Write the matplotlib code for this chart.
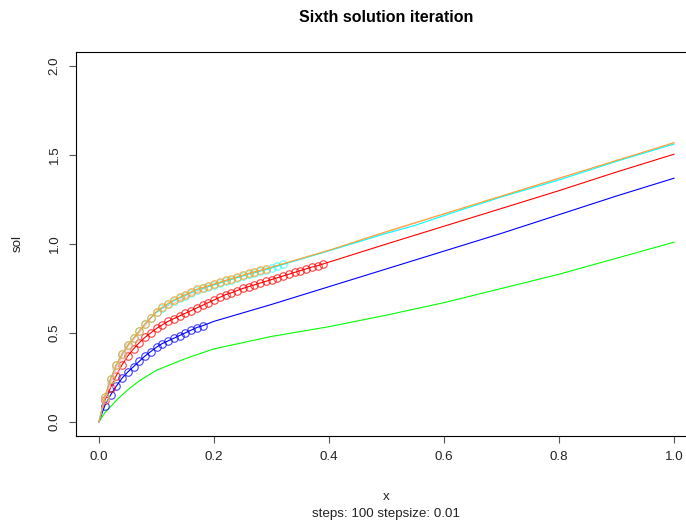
import numpy as np
import matplotlib
matplotlib.use("Agg")
import matplotlib.pyplot as plt

plt.rcParams['font.family'] = ['Liberation Sans', 'DejaVu Sans']

# x positions of the circled iterates (step 0.01) and of the remaining line points
x_fine = [0.00, 0.01, 0.02, 0.03, 0.04, 0.05, 0.06, 0.07, 0.08, 0.09,
          0.10, 0.11, 0.12, 0.13, 0.14, 0.15, 0.16, 0.17, 0.18, 0.19,
          0.20, 0.21, 0.22, 0.23, 0.24, 0.25, 0.26, 0.27, 0.28, 0.29,
          0.30, 0.31, 0.32, 0.33, 0.34, 0.35, 0.36, 0.37, 0.38, 0.39]

# green: line only
green_x = [0.0, 0.01, 0.03, 0.05, 0.07, 0.10, 0.15, 0.20, 0.30, 0.40, 0.50, 0.60, 0.70, 0.80, 0.90, 1.0]
green_y = [0.0, 0.05, 0.12, 0.18, 0.23, 0.29, 0.355, 0.41, 0.48, 0.535, 0.60, 0.67, 0.75, 0.83, 0.92, 1.01]

# blue: circles up to 0.18
blue_pts = [0.0, 0.09, 0.15, 0.20, 0.245, 0.28, 0.31, 0.34, 0.37, 0.395,
            0.42, 0.44, 0.455, 0.47, 0.485, 0.50, 0.515, 0.53, 0.54]
blue_tail_x = [0.2, 0.3, 0.4, 0.5, 0.6, 0.7, 0.8, 0.9, 1.0]
blue_tail_y = [0.565, 0.66, 0.76, 0.86, 0.96, 1.06, 1.165, 1.27, 1.37]

# red: circles up to 0.39
red_pts = [0.0, 0.12, 0.19, 0.26, 0.32, 0.37, 0.41, 0.445, 0.475, 0.50,
           0.525, 0.545, 0.565, 0.58, 0.595, 0.61, 0.625, 0.64, 0.655, 0.67,
           0.685, 0.70, 0.715, 0.725, 0.738, 0.75, 0.76, 0.77, 0.78, 0.79,
           0.80, 0.81, 0.82, 0.83, 0.84, 0.85, 0.86, 0.87, 0.878, 0.888]
red_tail_x = [0.5, 0.6, 0.7, 0.8, 0.9, 1.0]
red_tail_y = [1.0, 1.10, 1.20, 1.30, 1.405, 1.505]

# pink: circles up to 0.05
pink_pts = [0.0, 0.13, 0.22, 0.30, 0.37, 0.42]
pink_tail_x = [0.1, 0.2, 0.3, 0.4, 0.5, 0.6, 0.7, 0.8, 0.9, 1.0]
pink_tail_y = [0.62, 0.775, 0.868, 0.962, 1.065, 1.168, 1.268, 1.368, 1.468, 1.568]

# cyan: circles up to 0.32
cyan_pts = [0.0, 0.14, 0.24, 0.32, 0.38, 0.43, 0.47, 0.51, 0.55, 0.585,
            0.615, 0.64, 0.66, 0.68, 0.695, 0.71, 0.725, 0.74, 0.75, 0.76,
            0.77, 0.78, 0.79, 0.80, 0.81, 0.82, 0.83, 0.838, 0.847, 0.855,
            0.865, 0.875, 0.885]
cyan_tail_x = [0.4, 0.5, 0.55, 0.6, 0.7, 0.8, 0.9, 1.0]
cyan_tail_y = [0.962, 1.06, 1.105, 1.16, 1.265, 1.36, 1.465, 1.562]

# orange: circles up to 0.29
orange_pts = [0.0, 0.14, 0.24, 0.32, 0.38, 0.43, 0.47, 0.51, 0.55, 0.585,
              0.62, 0.645, 0.665, 0.685, 0.70, 0.715, 0.73, 0.745, 0.755, 0.765,
              0.775, 0.785, 0.795, 0.805, 0.815, 0.825, 0.835, 0.843, 0.852, 0.86]
orange_tail_x = [0.3, 0.4, 0.5, 0.6, 0.7, 0.8, 0.9, 1.0]
orange_tail_y = [0.87, 0.965, 1.07, 1.17, 1.27, 1.37, 1.47, 1.57]

W, H = 686, 525
fig = plt.figure(figsize=(W / 100, H / 100), dpi=100)
ax = fig.add_axes([76 / W, 1 - 436 / H, 621 / W, 384 / H])

lw = 0.8
ms = 5.4


def draw(pts, tail_x, tail_y, color, alpha=0.75):
    xs = x_fine[:len(pts)]
    ax.plot(list(xs) + tail_x, list(pts) + tail_y, color=color, lw=lw)
    ax.plot(xs[1:], pts[1:], 'o', mfc='none', mec=color, ms=ms, mew=0.8, alpha=alpha)


ax.plot(green_x, green_y, color='#00ff00', lw=lw)
draw(blue_pts, blue_tail_x, blue_tail_y, 'blue')
draw(red_pts, red_tail_x, red_tail_y, 'red')
draw(pink_pts, pink_tail_x, pink_tail_y, 'pink')
draw(cyan_pts, cyan_tail_x, cyan_tail_y, 'cyan', alpha=0.6)
draw(orange_pts, orange_tail_x, orange_tail_y, '#ffa030', alpha=0.85)

ax.set_xlim(-0.04, 1.04)
ax.set_ylim(-0.08, 2.08)
ax.set_xticks([0.0, 0.2, 0.4, 0.6, 0.8, 1.0])
ax.set_xticklabels(['0.0', '0.2', '0.4', '0.6', '0.8', '1.0'])
ax.set_yticks([0.0, 0.5, 1.0, 1.5, 2.0])
ax.set_yticklabels(['0.0', '0.5', '1.0', '1.5', '2.0'], rotation=90, va='center')
ax.tick_params(length=5, width=0.8, color='#555555', labelsize=9.6, pad=6, labelcolor='#222222')
for s in ax.spines.values():
    s.set_linewidth(0.8)

fig.text(386 / W, 1 - 17 / H, 'Sixth solution iteration', ha='center', va='center',
         fontsize=11.5, fontweight='bold')
fig.text(386 / W, 1 - 497 / H, 'x', ha='center', va='center', fontsize=9.6, color='#222222')
fig.text(386 / W, 1 - 514 / H, 'steps: 100 stepsize: 0.01', ha='center', va='center',
         fontsize=9.6, color='#222222')
fig.text(18 / W, 1 - 243 / H, 'sol', ha='center', va='center', rotation=90,
         fontsize=9.6, color='#222222')

fig.savefig('out.png', dpi=100)
